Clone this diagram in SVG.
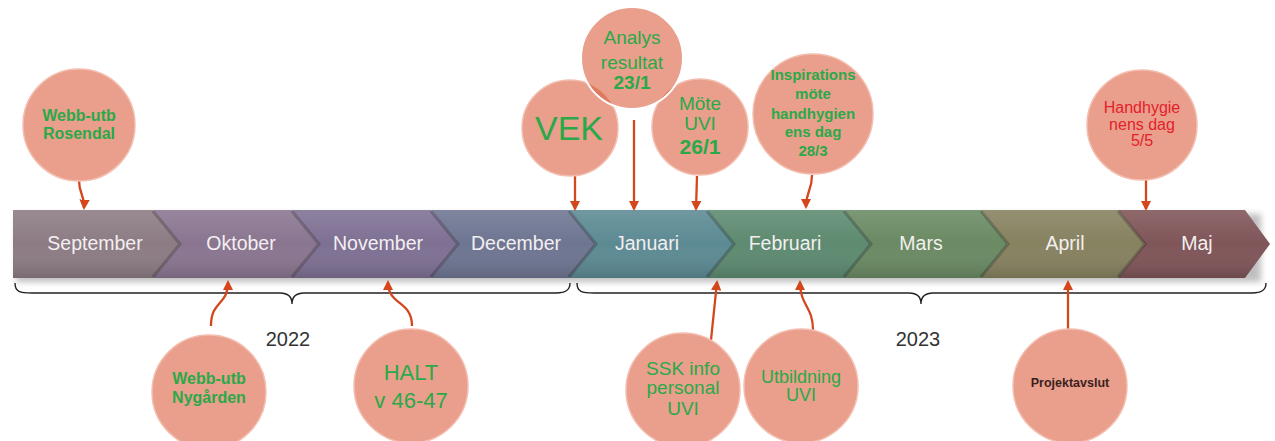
<svg xmlns="http://www.w3.org/2000/svg" width="1275" height="441" viewBox="0 0 1275 441">
<defs>
<style>
.mon{font-family:"Liberation Sans",Arial,sans-serif;font-size:19.5px;fill:#f3eff0;text-anchor:middle}
.g{font-family:"Liberation Sans",Arial,sans-serif;fill:#2aa94a;text-anchor:middle}
.r{font-family:"Liberation Sans",Arial,sans-serif;fill:#e4212b;text-anchor:middle}
.yr{font-family:"Liberation Sans",Arial,sans-serif;font-size:20px;fill:#333;text-anchor:middle}
.c{fill:#e99f8b;stroke:#f3beb0;stroke-width:1.5}
.arr{fill:none;stroke:#d4461c;stroke-width:2.3;marker-end:url(#ah)}
.br{fill:none;stroke:#222;stroke-width:1.4}
.notch{fill:none;stroke:#000;stroke-opacity:0.22;stroke-width:3}
</style>
<marker id="ah" viewBox="0 0 10 10" refX="8" refY="5" markerWidth="4.5" markerHeight="4.5" orient="auto" markerUnits="strokeWidth">
<path d="M0,0 L10,5 L0,10 z" fill="#d4461c"/>
</marker>
<linearGradient id="shade" x1="0" y1="0" x2="0" y2="1">
<stop offset="0" stop-color="#fff" stop-opacity="0.12"/>
<stop offset="0.5" stop-color="#fff" stop-opacity="0"/>
<stop offset="1" stop-color="#000" stop-opacity="0.14"/>
</linearGradient>
<filter id="blur" x="-5%" y="-50%" width="110%" height="200%"><feGaussianBlur stdDeviation="3"/></filter>
<clipPath id="anClip"><circle cx="632" cy="58" r="50"/></clipPath>
</defs>

<!-- band shadow -->
<rect x="16" y="214" width="1245" height="68" fill="#000" opacity="0.25" filter="url(#blur)"/>

<g id="timeline">
<path d="M13,210 L153,210 L180,244 L153,278 L13,278 Z" fill="#8c7b83"/>
<path d="M153,210 L292,210 L319,244 L292,278 L153,278 L180,244 Z" fill="#8a7590"/>
<path d="M292,210 L431,210 L458,244 L431,278 L292,278 L319,244 Z" fill="#7e7093"/>
<path d="M431,210 L569,210 L596,244 L569,278 L431,278 L458,244 Z" fill="#6e7591"/>
<path d="M569,210 L707,210 L734,244 L707,278 L569,278 L596,244 Z" fill="#5c8a93"/>
<path d="M707,210 L844,210 L871,244 L844,278 L707,278 L734,244 Z" fill="#5d8a70"/>
<path d="M844,210 L981,210 L1008,244 L981,278 L844,278 L871,244 Z" fill="#6a8a63"/>
<path d="M981,210 L1118,210 L1145,244 L1118,278 L981,278 L1008,244 Z" fill="#86815f"/>
<path d="M1118,210 L1245,210 L1270,244 L1245,278 L1118,278 L1145,244 Z" fill="#7f5558"/>
<path d="M13,210 L1245,210 L1270,244 L1245,278 L13,278 Z" fill="url(#shade)"/>
<path class="notch" d="M153,211 L180,244 L153,277 M292,211 L319,244 L292,277 M431,211 L458,244 L431,277 M569,211 L596,244 L569,277 M707,211 L734,244 L707,277 M844,211 L871,244 L844,277 M981,211 L1008,244 L981,277 M1118,211 L1145,244 L1118,277"/>
<text class="mon" x="95" y="250">September</text>
<text class="mon" x="241" y="250">Oktober</text>
<text class="mon" x="378" y="250">November</text>
<text class="mon" x="516" y="250">December</text>
<text class="mon" x="647" y="250">Januari</text>
<text class="mon" x="785" y="250">Februari</text>
<text class="mon" x="921" y="250">Mars</text>
<text class="mon" x="1065" y="250">April</text>
<text class="mon" x="1197" y="250">Maj</text>
</g>

<g id="braces">
<path class="br" d="M15,283 C15,292 20,293 32,293 L280,293 C288,293 292,297 292,304 C292,297 296,293 304,293 L556,293 C566,293 570,290 570,283"/>
<path class="br" d="M577,283 C577,292 582,293 594,293 L909,293 C917,293 921,297 921,304 C921,297 925,293 933,293 L1252,293 C1262,293 1266,290 1266,283"/>
<text class="yr" x="288" y="346">2022</text>
<text class="yr" x="918" y="346">2023</text>
</g>

<g id="connectors">
<path class="arr" d="M79,180 C79,196 85,194 84,208"/>
<path class="arr" d="M575,176 L575,209"/>
<path class="arr" d="M634,120 L634,209"/>
<path class="arr" d="M697,176 L696,209"/>
<path class="arr" d="M812,175 C812,192 806,190 806,207"/>
<path class="arr" d="M1146,180 L1146,209"/>
<path class="arr" d="M211,326 C211,300 228,306 228,282"/>
<path class="arr" d="M412,326 C412,300 388,306 388,282"/>
<path class="arr" d="M711,340 L717,282"/>
<path class="arr" d="M813,330 C813,306 800,306 800,282"/>
<path class="arr" d="M1068,330 L1068,282"/>
</g>

<g id="n-rosendal">
<circle class="c" cx="79" cy="125" r="56"/>
<text class="g" font-size="16" font-weight="bold" x="79" y="121">Webb-utb</text>
<text class="g" font-size="16" font-weight="bold" x="79" y="139">Rosendal</text>
</g>

<g id="n-vek">
<circle class="c" cx="570" cy="128" r="48"/>
<text class="g" font-size="34" x="569" y="140">VEK</text>
</g>

<g id="n-mote">
<circle class="c" cx="700" cy="127" r="48"/>
<text class="g" font-size="19" x="700" y="110">Möte</text>
<text class="g" font-size="19" x="700" y="130">UVI</text>
<text class="g" font-size="21" font-weight="bold" x="700" y="154">26/1</text>
</g>

<g id="n-analys">
<circle cx="632" cy="58" r="51" fill="#e99f8b" stroke="#ffffff" stroke-width="2"/>
<g clip-path="url(#anClip)">
<circle cx="570" cy="128" r="48" fill="#e0795e"/>
<circle cx="700" cy="127" r="48" fill="#e0795e"/>
</g>
<text class="g" font-size="19" x="632" y="44">Analys</text>
<text class="g" font-size="19" x="632" y="69">resultat</text>
<text class="g" font-size="19" font-weight="bold" x="632" y="89">23/1</text>
</g>

<g id="n-inspirations">
<circle class="c" cx="813" cy="114" r="60"/>
<text class="g" font-size="15" font-weight="bold" x="813" y="80">Inspirations</text>
<text class="g" font-size="15" font-weight="bold" x="813" y="99">möte</text>
<text class="g" font-size="15" font-weight="bold" x="813" y="119">handhygien</text>
<text class="g" font-size="15" font-weight="bold" x="813" y="137">ens dag</text>
<text class="g" font-size="15" font-weight="bold" x="813" y="156">28/3</text>
</g>

<g id="n-handhygienens">
<circle class="c" cx="1142" cy="125" r="55"/>
<text class="r" font-size="16" x="1142" y="113">Handhygie</text>
<text class="r" font-size="16" x="1142" y="130">nens dag</text>
<text class="r" font-size="16" x="1142" y="146">5/5</text>
</g>

<g id="n-nygarden">
<circle class="c" cx="209" cy="392" r="57"/>
<text class="g" font-size="16" font-weight="bold" x="209" y="384">Webb-utb</text>
<text class="g" font-size="16" font-weight="bold" x="209" y="403">Nygården</text>
</g>

<g id="n-halt">
<circle class="c" cx="411" cy="386" r="57"/>
<text class="g" font-size="22" x="411" y="380">HALT</text>
<text class="g" font-size="22" x="411" y="408">v 46-47</text>
</g>

<g id="n-ssk">
<circle class="c" cx="683" cy="390" r="57"/>
<text class="g" font-size="19" x="683" y="375">SSK info</text>
<text class="g" font-size="19" x="683" y="394">personal</text>
<text class="g" font-size="19" x="683" y="415">UVI</text>
</g>

<g id="n-utbildning">
<circle class="c" cx="801" cy="386" r="57"/>
<text class="g" font-size="18" x="801" y="383">Utbildning</text>
<text class="g" font-size="18" x="801" y="401">UVI</text>
</g>

<g id="n-projektavslut">
<circle class="c" cx="1070" cy="386" r="57"/>
<text font-family="Liberation Sans, Arial, sans-serif" font-size="12.5" font-weight="bold" fill="#3b1f1f" text-anchor="middle" x="1070" y="387">Projektavslut</text>
</g>
</svg>
